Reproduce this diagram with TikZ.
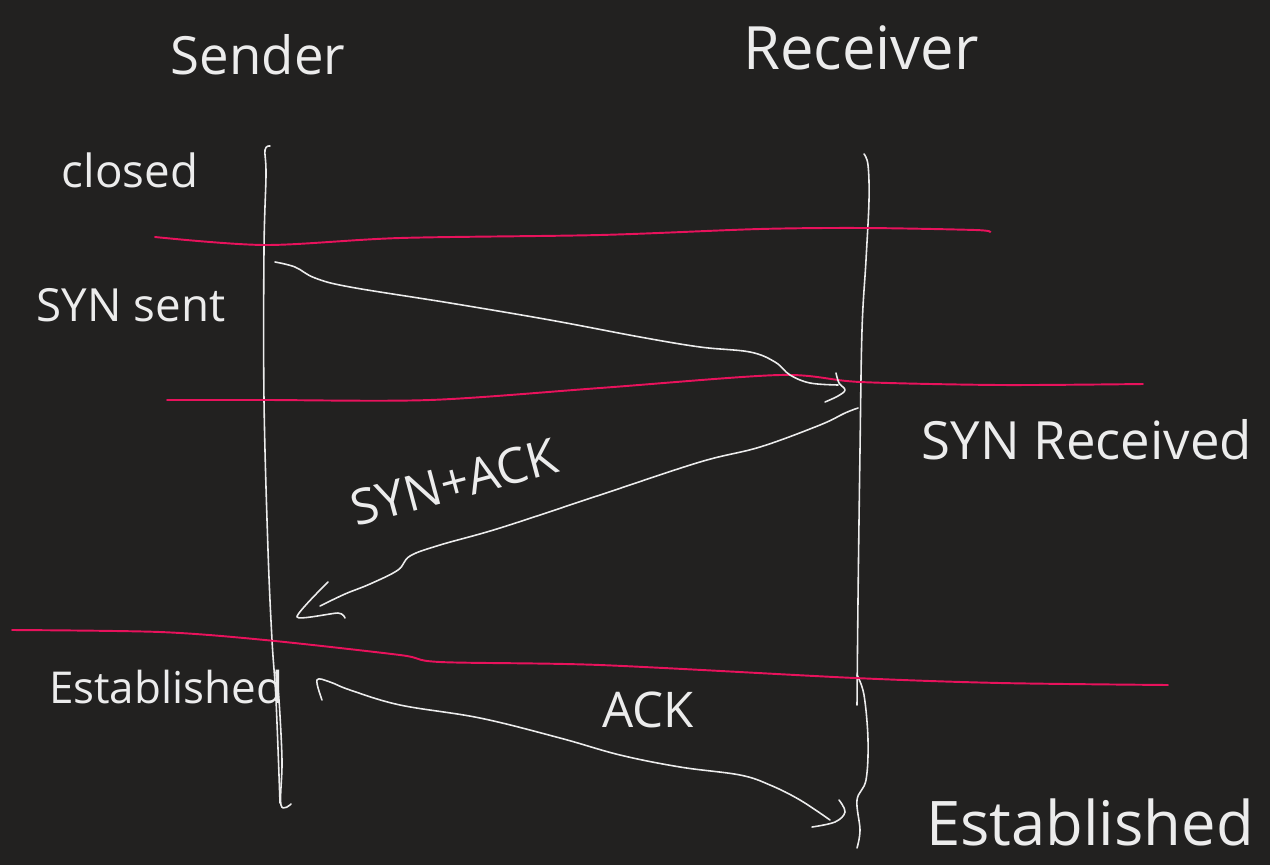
\documentclass[tikz,border=0pt]{standalone}
\usepackage{fontspec}
\setmainfont{Open Sans}
\definecolor{board}{HTML}{222120}
\definecolor{chalk}{HTML}{ECECEC}
\definecolor{marker}{HTML}{E8125C}

\begin{document}
\begin{tikzpicture}[x=0.02cm, y=-0.02cm,
    pen/.style={draw=chalk, line width=0.9pt, line cap=round, line join=round},
    state/.style={draw=marker, line width=1.1pt, line cap=round},
    hand/.style={text=chalk, inner sep=0pt, font=\fontsize{26}{30}\selectfont}]
  % Board:
  \fill[board] (0,0) rectangle (1270,865);
  \useasboundingbox (0,0) rectangle (1270,865);

  % Titles:
  \node[hand, font=\fontsize{30}{34}\selectfont] (sender) at (258,55) {Sender};
  \node[hand, font=\fontsize{34}{38}\selectfont] (receiver) at (861,48) {Receiver};

  % States:
  \node[hand] (closed) at (130,170) {closed};
  \node[hand] (synsent) at (131,305) {SYN sent};
  \node[hand, font=\fontsize{30}{34}\selectfont] (synrecv) at (1087,440) {SYN Received};
  \node[hand, font=\fontsize{25}{29}\selectfont] (estsender) at (166,687) {Established};
  \node[hand, font=\fontsize{35}{39}\selectfont] (estrecv) at (1090,822) {Established};

  % Lifelines:
  \draw[pen] plot[smooth, tension=.6] coordinates {(270,146) (265,150) (266,175) (264,250) (264,400) (268,550) (272,640) (276,700) (280,803)};
  \draw[pen] plot[smooth, tension=.6] coordinates {(276,672) (279,700) (282,760) (281,805) (291,804)};
  \draw[pen] plot[smooth, tension=.6] coordinates {(864,154) (868,165) (869,200) (866,260) (862,330) (860,450) (858,600) (857,705)};
  \draw[pen] plot[smooth, tension=.6] coordinates {(857,675) (864,695) (868,740) (866,780) (857,800) (860,830) (857,848)};

  % State boundaries:
  \draw[state] plot[smooth, tension=.5] coordinates {(155,237) (265,245) (400,238) (600,235) (760,229) (865,228) (975,230) (990,232)};
  \draw[state] plot[smooth, tension=.5] coordinates {(167,400) (265,400) (430,400) (600,388) (780,375) (860,382) (1000,385) (1143,384)};
  \draw[state] plot[smooth, tension=.5] coordinates {(12,630) (160,632) (265,640) (400,655) (440,662) (600,665) (855,678) (1000,683) (1168,685)};

  % SYN:
  \coordinate (syn start) at (275,262);
  \coordinate (syn end) at (838,385);
  \draw[pen] plot[smooth, tension=.6] coordinates {(syn start) (295,267) (315,278) (350,287) (450,303) (550,320) (640,337) (700,347) (750,352) (775,362) (790,375) (810,383) (syn end)};
  \draw[pen] plot[smooth, tension=.6] coordinates {(836,373) (839,383) (845,390) (838,396) (825,402)};

  % SYN+ACK:
  \coordinate (synack start) at (858,408);
  \coordinate (synack end) at (320,606);
  \draw[pen] plot[smooth, tension=.6] coordinates {(synack start) (845,413) (820,425) (760,447) (700,462) (600,495) (500,528) (440,545) (410,556) (398,570) (370,584) (345,594) (synack end)};
  \draw[pen] plot[smooth, tension=.4] coordinates {(328,582) (297,617) (338,613) (345,618)};
  \node[hand, font=\fontsize{28}{32}\selectfont, rotate=15] (synack) at (454,482) {SYN+ACK};

  % ACK:
  \coordinate (ack start) at (317,680);
  \coordinate (ack end) at (830,820);
  \draw[pen] plot[smooth, tension=.6] coordinates {(322,700) (ack start) (330,682) (350,690) (400,705) (480,718) (560,738) (620,755) (680,767) (740,775) (770,785) (800,800) (ack end)};
  \draw[pen] plot[smooth, tension=.6] coordinates {(839,800) (845,812) (835,822) (812,827)};
  \node[hand, font=\fontsize{28}{32}\selectfont] (ack) at (648,710) {ACK};
\end{tikzpicture}
\end{document}
